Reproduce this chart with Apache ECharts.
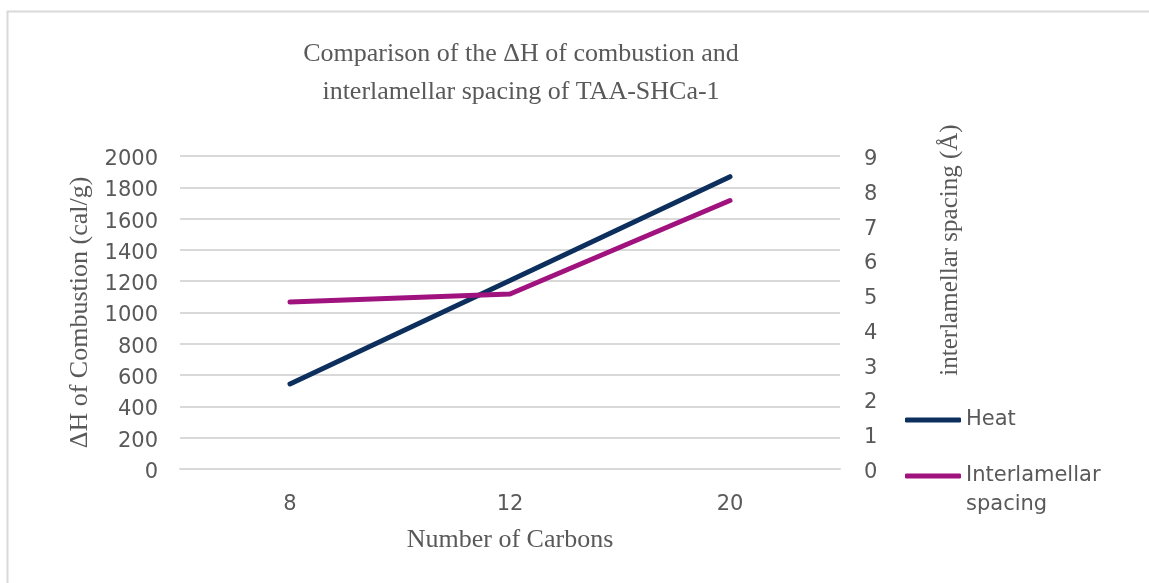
<!DOCTYPE html>
<html><head><meta charset="utf-8">
<script src="https://cdn.jsdelivr.net/npm/echarts@6/dist/echarts.min.js"></script>
<style>html,body{margin:0;padding:0;background:#fff}#c{width:1149px;height:583px}</style>
</head><body><div id="c"></div>
<script>
const categories = ['8', '12', '20'];
const heat = [543, 1205, 1868];
const spacing = [4.80, 5.03, 7.72];
const leftTicks = {min: 0, max: 2000, interval: 200};
const rightTicks = {min: 0, max: 9, interval: 1};
const seriesNames = ['Heat', 'Interlamellar spacing'];

const chart = echarts.init(document.getElementById('c'));
const gray = '#595959';
const sans = '"DejaVu Sans", sans-serif';
const serif = '"Liberation Serif", "DejaVu Serif", serif';
const legendBase = {
  orient: 'vertical', left: 905, padding: 0, itemWidth: 56, itemHeight: 5, icon: 'roundRect'
};
const tickRich = {t: {fontFamily: sans, fontSize: 21, color: gray, padding: [7, 0, 0, 0]}};
chart.setOption({
  backgroundColor: '#fff',
  animation: false,
  title: {
    text: 'Comparison of the ΔH of combustion and\ninterlamellar spacing of TAA-SHCa-1',
    left: 516, top: 30, textAlign: 'center',
    textStyle: {fontFamily: serif, fontSize: 26, fontWeight: 'normal', color: gray, lineHeight: 38, align: 'center'}
  },
  grid: {left: 180, right: 309, top: 156, bottom: 114, containLabel: false},
  legend: [
    Object.assign({}, legendBase, {top: 405.5, data: [seriesNames[0]],
      textStyle: {fontFamily: sans, fontSize: 21, color: gray, lineHeight: 29}}),
    Object.assign({}, legendBase, {top: 432.5, data: [seriesNames[1]],
      formatter: n => ' \n' + n.replace(' ', '\n'),
      textStyle: {fontFamily: sans, fontSize: 21, color: gray, lineHeight: 29}})
  ],
  graphic: [
    {type: 'rect', shape: {x: 7.5, y: 11.5, width: 1200, height: 620}, style: {fill: 'none', stroke: '#d9d9d9', lineWidth: 2}, silent: true},
    {type: 'text', x: 950, y: 250, rotation: Math.PI / 2, style: {text: 'interlamellar spacing (Å)', fontFamily: serif, fontSize: 25, fill: gray, align: 'center', verticalAlign: 'middle'}}
  ],
  xAxis: {
    type: 'category', data: categories, boundaryGap: true,
    name: 'Number of Carbons', nameLocation: 'middle', nameGap: 58,
    nameTextStyle: {fontFamily: serif, fontSize: 26, color: gray},
    axisLine: {show: true, lineStyle: {color: '#d9d9d9', width: 2}},
    axisTick: {show: false},
    axisLabel: {fontFamily: sans, fontSize: 21, color: gray, margin: 25}
  },
  yAxis: [
    {
      type: 'value', min: leftTicks.min, max: leftTicks.max, interval: leftTicks.interval,
      name: 'ΔH of Combustion (cal/g)', nameLocation: 'middle', nameGap: 81, nameRotate: 90,
      nameTextStyle: {fontFamily: serif, fontSize: 26, color: gray},
      axisLine: {show: false}, axisTick: {show: false},
      axisLabel: {margin: 22, formatter: v => '{t|' + v + '}', rich: tickRich},
      splitLine: {lineStyle: {color: '#d9d9d9', width: 2}}
    },
    {
      type: 'value', min: rightTicks.min, max: rightTicks.max, interval: rightTicks.interval,
      position: 'right',
      axisLine: {show: false}, axisTick: {show: false},
      axisLabel: {margin: 24, formatter: v => '{t|' + v + '}', rich: tickRich},
      splitLine: {show: false}
    }
  ],
  series: [
    {name: seriesNames[0], type: 'line', data: heat, yAxisIndex: 0, symbol: 'none',
     lineStyle: {color: '#0d2f5e', width: 5, cap: 'round'}, itemStyle: {color: '#0d2f5e'}},
    {name: seriesNames[1], type: 'line', data: spacing, yAxisIndex: 1, symbol: 'none',
     lineStyle: {color: '#a0137f', width: 5, cap: 'round'}, itemStyle: {color: '#a0137f'}}
  ]
});
</script></body></html>
